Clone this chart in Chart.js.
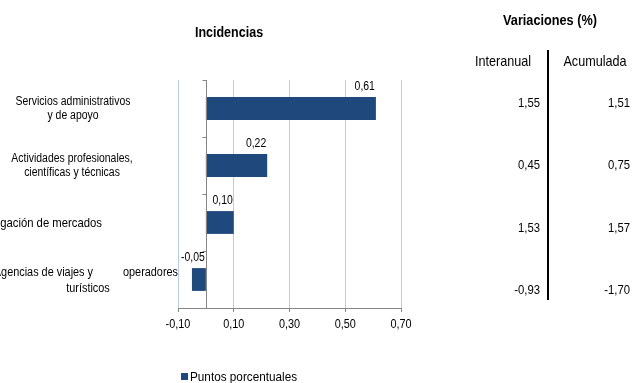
<!DOCTYPE html>
<html>
<head>
<meta charset="utf-8">
<script src="https://cdn.jsdelivr.net/npm/chart.js@4.4.1/dist/chart.umd.min.js"></script>
<style>
  html, body { margin: 0; padding: 0; background: #fff; }
  #wrap { width: 632px; height: 383px; position: relative; }
</style>
</head>
<body>
<div id="wrap"><canvas id="chart" width="632" height="383"></canvas></div>
<script>
// data
const categories = [
  ['Servicios administrativos', 'y de apoyo'],
  ['Actividades profesionales,', 'científicas y técnicas'],
  ['Publicidad e investigación de mercados'],
  ['Agencias de viajes y', 'operadores', 'turísticos']
];
const puntos = [0.61, 0.22, 0.10, -0.05];
const interanual = [1.55, 0.45, 1.53, -0.93];
const acumulada = [1.51, 0.75, 1.57, -1.70];
const xTicks = [-0.10, 0.10, 0.30, 0.50, 0.70];

// layout of the category label lines: [x, align, dy, size]
const labelPos = [
  [[73, 'center', -7, 12], [73, 'center', 7, 12]],
  [[72, 'center', -7, 12], [72, 'center', 7, 12]],
  [[102, 'right', 1, 13]],
  [[93, 'right', -7, 12.5], [178, 'right', -7, 12.5], [88, 'center', 9, 12.5]]
];
const tableRows = [103, 165, 228, 290];

const FONT = "'Liberation Sans', Arial, sans-serif";
const BLUE = '#1f497d';
const SX = 0.87; // the original text is a bit condensed
const fmt = v => v.toFixed(2).replace('.', ',');

// draw text squeezed horizontally around its anchor
function text(ctx, t, x, y, align, size, bold) {
  ctx.save();
  ctx.font = (bold ? 'bold ' : '') + size + 'px ' + FONT;
  ctx.textAlign = align;
  ctx.textBaseline = 'middle';
  ctx.translate(x, y);
  ctx.scale(SX, 1);
  ctx.fillText(t, 0, 0);
  ctx.restore();
}

const extras = {
  id: 'extras',
  afterDraw(chart) {
    const ctx = chart.ctx;
    const x = chart.scales.x, y = chart.scales.y;
    const area = chart.chartArea;
    ctx.save();
    ctx.fillStyle = '#000';

    // zero axis with category ticks
    const x0 = Math.round(x.getPixelForValue(0)) + 0.5;
    ctx.strokeStyle = '#868686';
    ctx.lineWidth = 1;
    ctx.beginPath();
    ctx.moveTo(x0, area.top);
    ctx.lineTo(x0, area.bottom);
    const step = (area.bottom - area.top) / categories.length;
    for (let i = 0; i < categories.length; i++) {
      const ty = Math.round(area.top + i * step) + 0.5;
      ctx.moveTo(x0 - 4, ty);
      ctx.lineTo(x0, ty);
    }
    ctx.stroke();

    // x tick labels
    xTicks.forEach(v => text(ctx, fmt(v), x.getPixelForValue(v), area.bottom + 17, 'center', 12.5));

    // category labels
    categories.forEach((lines, i) => {
      const cy = y.getPixelForValue(i);
      lines.forEach((t, j) => {
        const p = labelPos[i][j];
        text(ctx, t, p[0], cy + p[2], p[1], p[3]);
      });
    });

    // value labels above bars
    const meta = chart.getDatasetMeta(0);
    meta.data.forEach((bar, i) => {
      const right = Math.max(bar.x, bar.base);
      text(ctx, fmt(puntos[i]), right - 1, bar.y - bar.height / 2 - 10, 'right', 12);
    });

    // titles
    text(ctx, 'Incidencias', 229, 33, 'center', 14.4, true);
    text(ctx, 'Variaciones (%)', 550, 21, 'center', 14.6, true);

    // variations table
    text(ctx, 'Interanual', 503, 62, 'center', 14.5);
    text(ctx, 'Acumulada', 595, 62, 'center', 14.5);
    ctx.strokeStyle = '#000';
    ctx.lineWidth = 2;
    ctx.beginPath();
    ctx.moveTo(548, 50);
    ctx.lineTo(548, 300);
    ctx.stroke();
    tableRows.forEach((ry, i) => {
      text(ctx, fmt(interanual[i]), 540, ry, 'right', 13);
      text(ctx, fmt(acumulada[i]), 630, ry, 'right', 13);
    });

    // legend
    ctx.fillStyle = BLUE;
    ctx.fillRect(181, 373, 7, 7);
    ctx.fillStyle = '#000';
    text(ctx, 'Puntos porcentuales', 190, 377, 'left', 13.5);
    ctx.restore();
  }
};

new Chart(document.getElementById('chart'), {
  type: 'bar',
  data: {
    labels: categories.map(c => c.join(' ')),
    datasets: [{
      label: 'Puntos porcentuales',
      data: puntos,
      backgroundColor: BLUE,
      categoryPercentage: 1,
      barPercentage: 0.4
    }]
  },
  options: {
    indexAxis: 'y',
    responsive: false,
    animation: false,
    layout: { padding: { top: 80, right: 231, left: 0, bottom: 0 } },
    plugins: { legend: { display: false }, tooltip: { enabled: false } },
    scales: {
      x: {
        min: -0.1,
        max: 0.7,
        afterBuildTicks: axis => { axis.ticks = xTicks.map(v => ({ value: v })); },
        afterFit: axis => { axis.height = 75; },
        grid: { color: '#b9cde5', tickColor: '#868686', tickLength: 4 },
        border: { color: '#868686' },
        ticks: { display: false }
      },
      y: {
        afterFit: axis => { axis.width = 178; },
        grid: { display: false },
        border: { display: false },
        ticks: { display: false }
      }
    }
  },
  plugins: [extras]
});
</script>
</body>
</html>
